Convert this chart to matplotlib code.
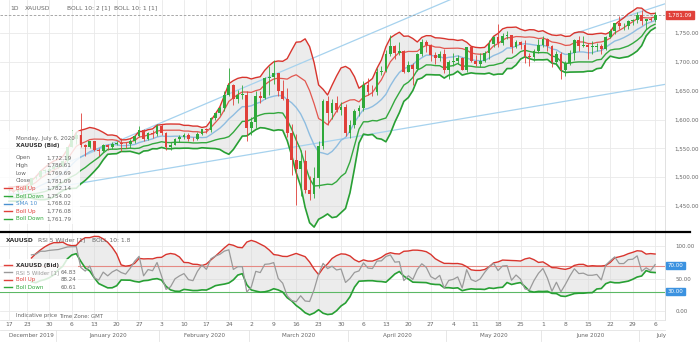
import matplotlib
matplotlib.use('Agg')
import matplotlib.pyplot as plt
import matplotlib.transforms as mtransforms
from matplotlib.patches import Rectangle
import numpy as np
import pandas as pd

plt.rcParams['font.family'] = ['DejaVu Sans']

# ---------------- data ----------------
dates = pd.bdate_range('2019-12-17', '2020-07-06')

opens = [1476, 1476, 1475, 1479, 1478, 1486, 1498, 1500, 1511, 1511, 1515, 1517, 1519, 1528, 1552, 1566,
         1574, 1556, 1552, 1562, 1548, 1545, 1556, 1552, 1557, 1560, 1558, 1557, 1562, 1571, 1582, 1567,
         1576, 1575, 1589, 1576, 1553, 1556, 1566, 1570, 1573, 1567, 1566, 1575, 1584, 1581, 1602, 1612,
         1620, 1643, 1659, 1635, 1643, 1643, 1585, 1595, 1640, 1637, 1672, 1674, 1680, 1649, 1636, 1577,
         1530, 1515, 1528, 1477, 1471, 1498, 1554, 1632, 1612, 1629, 1617, 1622, 1577, 1591, 1614, 1620,
         1660, 1648, 1647, 1683, 1684, 1713, 1727, 1716, 1718, 1683, 1695, 1687, 1713, 1735, 1729, 1712,
         1707, 1714, 1686, 1700, 1702, 1706, 1685, 1725, 1702, 1697, 1702, 1716, 1731, 1743, 1733, 1745,
         1746, 1726, 1735, 1729, 1710, 1708, 1719, 1730, 1739, 1727, 1699, 1713, 1685, 1698, 1716, 1737,
         1728, 1729, 1726, 1726, 1727, 1722, 1743, 1754, 1768, 1762, 1762, 1771, 1772, 1781, 1770, 1775,
         1772.19]
highs = [1482, 1479, 1481, 1481, 1487, 1499, 1502, 1513, 1514, 1517, 1523, 1521, 1529, 1553, 1582, 1579,
         1611, 1558, 1563, 1563, 1551, 1558, 1558, 1561, 1563, 1568, 1561, 1566, 1574, 1588, 1583, 1578,
         1582, 1592, 1592, 1578, 1561, 1568, 1574, 1577, 1576, 1570, 1578, 1584, 1585, 1604, 1612, 1623,
         1649, 1689, 1661, 1651, 1660, 1649, 1604, 1649, 1650, 1673, 1692, 1703, 1680, 1668, 1654, 1593,
         1575, 1548, 1547, 1502, 1518, 1562, 1636, 1640, 1635, 1641, 1631, 1627, 1599, 1618, 1626, 1667,
         1672, 1660, 1690, 1692, 1720, 1747, 1729, 1735, 1720, 1701, 1698, 1716, 1739, 1738, 1731, 1717,
         1718, 1722, 1703, 1715, 1711, 1708, 1725, 1726, 1712, 1716, 1718, 1737, 1745, 1765, 1750, 1753,
         1747, 1737, 1736, 1737, 1716, 1723, 1740, 1745, 1742, 1729, 1718, 1717, 1701, 1720, 1739, 1745,
         1744, 1733, 1736, 1733, 1731, 1745, 1757, 1768, 1779, 1767, 1772, 1775, 1786, 1789, 1775, 1777,
         1786.61]
lows = [1474, 1472, 1471, 1474, 1477, 1485, 1497, 1499, 1507, 1509, 1514, 1516, 1518, 1524, 1552, 1558,
        1553, 1536, 1550, 1546, 1536, 1544, 1548, 1549, 1555, 1546, 1551, 1551, 1560, 1570, 1563, 1565,
        1568, 1572, 1573, 1548, 1547, 1555, 1561, 1567, 1563, 1562, 1564, 1573, 1577, 1579, 1599, 1608,
        1614, 1640, 1626, 1629, 1636, 1563, 1574, 1586, 1628, 1635, 1642, 1661, 1641, 1633, 1570, 1504,
        1451, 1467, 1472, 1461, 1464, 1481, 1549, 1591, 1601, 1613, 1608, 1571, 1568, 1585, 1606, 1615,
        1642, 1640, 1643, 1677, 1682, 1710, 1705, 1711, 1680, 1682, 1660, 1684, 1710, 1717, 1702, 1696,
        1702, 1680, 1670, 1693, 1697, 1685, 1683, 1700, 1692, 1691, 1700, 1705, 1726, 1726, 1729, 1740,
        1715, 1724, 1722, 1698, 1693, 1702, 1716, 1726, 1719, 1691, 1694, 1670, 1676, 1695, 1703, 1718,
        1725, 1705, 1713, 1718, 1713, 1720, 1741, 1749, 1757, 1755, 1757, 1763, 1767, 1763, 1757, 1770,
        1769.69]
closes = [1476, 1475, 1479, 1478, 1486, 1498, 1500, 1511, 1511, 1515, 1517, 1519, 1528, 1552, 1566, 1574,
          1556, 1552, 1562, 1548, 1545, 1556, 1552, 1557, 1560, 1558, 1557, 1562, 1571, 1582, 1567, 1576,
          1575, 1589, 1576, 1553, 1556, 1566, 1570, 1573, 1567, 1566, 1575, 1584, 1581, 1602, 1612, 1620,
          1643, 1659, 1635, 1643, 1643, 1585, 1595, 1640, 1637, 1672, 1674, 1680, 1649, 1636, 1577, 1530,
          1515, 1528, 1477, 1471, 1498, 1554, 1632, 1612, 1629, 1617, 1622, 1577, 1591, 1614, 1620, 1660,
          1648, 1647, 1683, 1684, 1713, 1727, 1716, 1718, 1683, 1695, 1687, 1713, 1735, 1729, 1712, 1707,
          1714, 1686, 1700, 1702, 1706, 1685, 1725, 1702, 1697, 1702, 1716, 1731, 1743, 1733, 1745, 1746,
          1726, 1735, 1729, 1710, 1708, 1719, 1730, 1739, 1727, 1699, 1713, 1685, 1698, 1716, 1737, 1728,
          1729, 1726, 1726, 1727, 1722, 1743, 1754, 1768, 1762, 1762, 1771, 1772, 1781, 1770, 1775, 1773,
          1781.09]
# closes before the first visible day (needed to warm up the indicators)
warmup_closes = [1462, 1454, 1458, 1464, 1463, 1477, 1474, 1475, 1459, 1462, 1465, 1475, 1469, 1476, 1476]

price_ticks = [1450, 1500, 1550, 1600, 1650, 1700, 1750]
rsi_ticks = [0, 50, 100]
rsi_levels = [70, 30]
month_names = ['December 2019', 'January 2020', 'February 2020', 'March 2020',
               'April 2020', 'May 2020', 'June 2020', 'July']

# channel (trend) lines: start date, end date, start price, end price
trend_upper = (['2019-12-25', '2020-04-29'], [1502, 1800])
trend_lower = (['2019-12-26', '2020-07-06'], [1478, 1658])
trend_upper2 = (['2020-06-10', '2020-07-06'], [1749, 1795])

legend_values = ['1,772.19', '1,786.61', '1,769.69', '1,781.09',
                 '1,782.14', '1,754.00', '1,768.02', '1,776.08', '1,761.79']
rsi_legend_values = ['64.83', '88.24', '60.61']

# ---------------- indicators ----------------
n = len(dates)
allc = pd.Series(warmup_closes + closes, dtype=float)
sma = allc.rolling(10).mean()
sd = allc.rolling(10).std(ddof=0)
up2, dn2 = sma + 2 * sd, sma - 2 * sd
up1, dn1 = sma + 1 * sd, sma - 1 * sd
delta = allc.diff()
gain = delta.clip(lower=0).ewm(alpha=1 / 5, adjust=False).mean()
loss = (-delta.clip(upper=0)).ewm(alpha=1 / 5, adjust=False).mean()
rsi = 100 - 100 / (1 + gain / loss)
rsi_mid = rsi.rolling(10).mean()
rsi_sd = rsi.rolling(10).std(ddof=0)
rsi_up, rsi_dn = rsi_mid + 1.8 * rsi_sd, rsi_mid - 1.8 * rsi_sd
k = len(warmup_closes)
sl = slice(k, k + n)
sma, up2, dn2, up1, dn1 = [s.iloc[sl].values for s in (sma, up2, dn2, up1, dn1)]
rsi, rsi_up, rsi_dn = [s.iloc[sl].values for s in (rsi, rsi_up, rsi_dn)]

x = np.arange(n)
o, h, l, c = map(np.array, (opens, highs, lows, closes))

# ---------------- layout ----------------
W, H = 700, 344
def fx(px): return px / W
def fy(py): return 1 - py / H

RED = '#e0403a'
GREEN = '#2fa83a'
BLUE = '#8fbde0'
TREND = '#a6d2ee'
GRID = '#e9e9e9'
TXT = '#666666'
FS = 4.3

fig = plt.figure(figsize=(7, 3.44), dpi=100)
fig.patch.set_facecolor('white')
ax = fig.add_axes([0, fy(231), fx(665), 231 / H])
ax2 = fig.add_axes([0, fy(320), fx(665), (320 - 233) / H])

xl = (-2.0, 146.2)
for a in (ax, ax2):
    a.set_xlim(*xl)
    for s in a.spines.values():
        s.set_visible(False)
    a.spines['right'].set_visible(True)
    a.spines['right'].set_color('#dcdcdc')
    a.spines['right'].set_linewidth(0.6)

ax.set_ylim(1406.7, 1807.2)
ax2.set_ylim(-13.8, 120)

# ticks: first day + every Monday
tick_idx = [0] + [i for i, d in enumerate(dates) if d.weekday() == 0]
tick_lab = [str(dates[i].day) for i in tick_idx]
for a in (ax, ax2):
    a.set_xticks(tick_idx)
    a.grid(True, color=GRID, lw=0.6)
    a.set_axisbelow(True)
    a.yaxis.tick_right()
    a.tick_params(length=0, labelsize=FS, colors=TXT)
ax.set_xticklabels([])
ax2.set_xticklabels(tick_lab)
ax2.tick_params(axis='x', pad=1.2)

ax.set_yticks(price_ticks)
ax.set_yticklabels([f'{v:,.2f}' for v in price_ticks])
ax.tick_params(axis='y', pad=6.5, labelsize=4.0)
ax2.set_yticks(rsi_ticks)
ax2.set_yticklabels([f'{v:.2f}' for v in rsi_ticks])
ax2.tick_params(axis='y', pad=7.5, labelsize=4.0)

# ---------------- top panel ----------------
ax.fill_between(x, dn2, up2, color='#d5d5d5', alpha=0.45, lw=0, zorder=1)

def draw_trend(tr):
    ds, ps = tr
    i0 = dates.get_loc(pd.Timestamp(ds[0]))
    i1 = dates.get_loc(pd.Timestamp(ds[1]))
    slope = (ps[1] - ps[0]) / (i1 - i0)
    xe = np.array([i0, xl[1]])
    ax.plot(xe, ps[0] + slope * (xe - i0), color=TREND, lw=0.9, zorder=2)

for tr in (trend_upper, trend_lower, trend_upper2):
    draw_trend(tr)

ax.plot(x, up2, color='#d8352e', lw=1.0, zorder=3)
ax.plot(x, up1, color='#e2574f', lw=0.9, zorder=3)
ax.plot(x, sma, color=BLUE, lw=1.0, zorder=3)
ax.plot(x, dn1, color='#34a83e', lw=1.0, zorder=3)
ax.plot(x, dn2, color='#28a034', lw=1.2, zorder=3)

up = c >= o
cols = np.where(up, GREEN, RED)
ax.vlines(x, l, h, colors=cols, lw=0.6, zorder=4)
body = np.where(np.abs(c - o) < 0.8, 0.8, c - o)
ax.bar(x, body, bottom=o, width=0.62, color=cols, lw=0, zorder=5)

ax.axhline(c[-1], color='#9a9a9a', lw=0.6, ls=(0, (3, 2)), zorder=2)
tr_y = mtransforms.blended_transform_factory(ax.transAxes, ax.transData)
ax.text(1.004, c[-1], f'{c[-1]:,.2f}', transform=tr_y, fontsize=4.0, color='white',
        va='center', ha='left',
        bbox=dict(boxstyle='square,pad=0.25', fc=RED, ec=RED))

# header
fig.text(fx(10), fy(8), '1D', fontsize=FS, color=TXT, va='center')
fig.text(fx(25), fy(8), 'XAUUSD', fontsize=FS, color=TXT, va='center')
fig.text(fx(67), fy(8), 'BOLL 10: 2 [1]  BOLL 10: 1 [1]', fontsize=FS, color=TXT, va='center')

# top legend box
fig.patches.append(Rectangle((0, fy(224)), fx(80), (224 - 131) / H, transform=fig.transFigure,
                             fc='white', ec='none', alpha=0.82, zorder=10))
fig.text(fx(16), fy(138), 'Monday, July 6, 2020', fontsize=4.1, color=TXT, va='center', zorder=11)
fig.text(fx(16), fy(146), 'XAUUSD (Bid)', fontsize=4.1, color='#333333', va='center',
         fontweight='bold', zorder=11)
rows = ['Open', 'High', 'Low', 'Close', 'Boll Up', 'Boll Down', 'SMA 10', 'Boll Up', 'Boll Down']
rcols = [TXT, TXT, TXT, TXT, RED, GREEN, '#4a90d0', RED, GREEN]
for j, (r, v, cc) in enumerate(zip(rows, legend_values, rcols)):
    yy = fy(158 + j * 7.6)
    fig.text(fx(16), yy, r, fontsize=4.1, color=cc, va='center', zorder=11)
    fig.text(fx(46), yy, v, fontsize=4.1, color=TXT, va='center', zorder=11)
    if j >= 4:
        fig.lines.append(plt.Line2D([fx(4), fx(12)], [yy, yy], transform=fig.transFigure,
                                    color=cc, lw=1.0, zorder=11))

# ---------------- RSI panel ----------------
s5 = slice(5, n)
ax2.fill_between(x[s5], rsi_dn[s5], rsi_up[s5], color='#d5d5d5', alpha=0.45, lw=0, zorder=1)
ax2.axhline(rsi_levels[0], color='#e58a84', lw=0.8, zorder=2)
ax2.axhline(rsi_levels[1], color='#5cb865', lw=0.8, zorder=2)
ax2.plot(x[s5], rsi_up[s5], color='#d8352e', lw=1.0, zorder=3)
ax2.plot(x[s5], rsi_dn[s5], color='#28a034', lw=1.2, zorder=3)
ax2.plot(x[s5], rsi[s5], color='#9a9a9a', lw=0.9, zorder=4)
tr_y2 = mtransforms.blended_transform_factory(ax2.transAxes, ax2.transData)
for lv in rsi_levels:
    ax2.text(1.004, lv, f'{lv:.2f}', transform=tr_y2, fontsize=4.0, color='white', va='center',
             ha='left', bbox=dict(boxstyle='square,pad=0.25', fc='#3b92e0', ec='#3b92e0'))

fig.text(fx(6), fy(240), 'XAUUSD', fontsize=FS, color='#333333', va='center', fontweight='bold')
fig.text(fx(38), fy(240), 'RSI 5 Wilder [1]', fontsize=FS, color=TXT, va='center')
fig.text(fx(92), fy(240), 'BOLL 10: 1.8', fontsize=FS, color=TXT, va='center')

fig.patches.append(Rectangle((0, fy(292)), fx(78), (292 - 259) / H, transform=fig.transFigure,
                             fc='white', ec='none', alpha=0.82, zorder=10))
rrows = ['XAUUSD (Bid)', 'RSI 5 Wilder [1]', 'Boll Up', 'Boll Down']
rrc = ['#333333', '#9a9a9a', RED, GREEN]
rvals = [''] + rsi_legend_values
for j, (r, v, cc) in enumerate(zip(rrows, rvals, rrc)):
    yy = fy(265 + j * 7.4)
    fig.text(fx(16), yy, r, fontsize=4.0, color=cc, va='center', zorder=11,
             fontweight='bold' if j == 0 else 'normal')
    fig.text(fx(61), yy, v, fontsize=4.0, color=TXT, va='center', zorder=11)
    fig.lines.append(plt.Line2D([fx(4), fx(12)], [yy, yy], transform=fig.transFigure,
                                color=[RED, '#9a9a9a', RED, GREEN][j], lw=1.0, zorder=11))

fig.text(fx(16), fy(316), 'Indicative price', fontsize=3.9, color=TXT, va='center')
fig.text(fx(59), fy(316), 'Time Zone: GMT', fontsize=3.9, color=TXT, va='center')

# separator between panels
fig.lines.append(plt.Line2D([0, fx(690)], [fy(231.8), fy(231.8)], transform=fig.transFigure,
                            color='black', lw=1.6))
# axis label area lines
for yy in (320, 329.5):
    fig.lines.append(plt.Line2D([0, fx(665)], [fy(yy), fy(yy)], transform=fig.transFigure,
                                color='#e3e3e3', lw=0.6))

# month labels
tr_x2 = mtransforms.blended_transform_factory(ax2.transData, fig.transFigure)
months = pd.Series(np.arange(n), index=dates).groupby([dates.year, dates.month])
for (grp, idxs), name in zip(months, month_names):
    a0, a1 = idxs.values[0], idxs.values[-1]
    if name == 'July':
        cx = a1 + 1.3
    else:
        cx = (a0 + a1) / 2
    ax2.text(cx, fy(335.5), name, transform=tr_x2, fontsize=4.1, color=TXT, ha='center',
             va='center', clip_on=False)
    if a0 > 0:
        ax2.plot([a0 - 0.5, a0 - 0.5], [fy(330), fy(341)], transform=tr_x2, color='#e3e3e3',
                 lw=0.6, clip_on=False)

fig.savefig('out.png', dpi=100)
